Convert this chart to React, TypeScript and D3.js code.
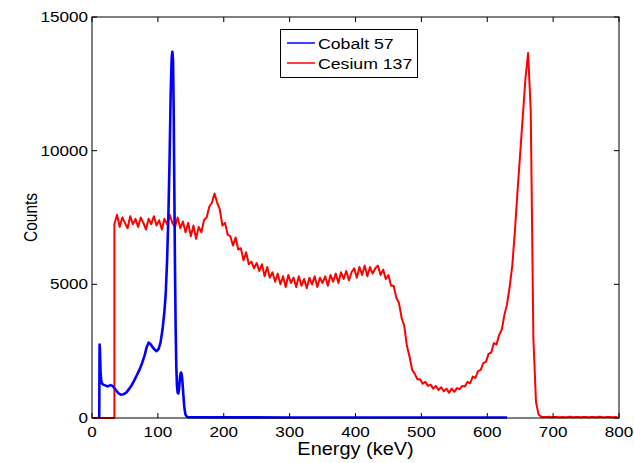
import * as d3 from "d3";

// Cobalt 57 spectrum (energy keV -> counts)
const cobaltEnergy = [
  11, 11.5, 12, 13, 14, 15, 17, 20, 24, 28,
  31, 34, 37, 40, 44, 48, 52, 56, 60, 64,
  68, 72, 76, 80, 83, 86, 89, 92, 95, 98,
  101, 104, 107, 110, 112, 114, 116, 118, 119.5, 121,
  122, 123, 124, 125, 126, 127, 128, 129, 130, 131,
  132, 133, 134, 135, 136, 137, 138, 139, 140, 141,
  142, 144, 146, 200, 300, 400, 500, 630,
];
const cobaltCounts = [
  0, 2750, 2600, 1700, 1400, 1300, 1250, 1220, 1180, 1230,
  1200, 1120, 1020, 930, 870, 890, 950, 1080, 1220, 1400,
  1600, 1800, 2050, 2350, 2650, 2820, 2760, 2650, 2560, 2500,
  2580, 2820, 3300, 4000, 4700, 5900, 7600, 10000, 12200, 13500,
  13700, 13400, 11500, 8500, 5600, 3300, 1900, 1200, 950, 920,
  1050, 1350, 1600, 1700, 1650, 1450, 1100, 750, 450, 250,
  120, 50, 30, 25, 20, 20, 20, 20,
];

// Cesium 137: zero lead-in, then channels every 4 keV from 34 keV
const cesiumLeadEnergy = [0, 34];
const cesiumLeadCounts = [0, 0];
const cesiumStart = 34;
const cesiumStep = 4;
const cesiumCounts = [
  7250, 7600, 7150, 7500, 7300, 7100, 7550, 7250, 7450, 7150,
  7500, 7300, 7050, 7450, 7250, 7550, 7200, 7400, 7050, 7450,
  7250, 7600, 7300, 7150, 7500, 7100, 7350, 6950, 7300, 6800,
  7200, 6700, 7150, 6950, 7400, 7500, 7900, 8050, 8400, 8050,
  7800, 7200, 7300, 6850, 6800, 6450, 6750, 6300, 6350, 5900,
  6200, 5750, 5850, 5600, 5800, 5500, 5750, 5300, 5650, 5250,
  5450, 5100, 5400, 5000, 5300, 4900, 5350, 5050, 5250, 4900,
  5300, 4950, 5200, 4850, 5250, 5000, 5300, 4900, 5250, 5050,
  5300, 4950, 5350, 5100, 5400, 5050, 5450, 5200, 5500, 5150,
  5450, 5600, 5250, 5650, 5350, 5700, 5300, 5650, 5400, 5600,
  5700, 5350, 5550, 5200, 5350, 4950, 4950, 4500, 4300, 3750,
  3450, 2700, 2300, 1800, 1650, 1450, 1450, 1280, 1350, 1200,
  1250, 1100, 1200, 1050, 1150, 1000, 1100, 950, 1100, 980,
  1120, 1080, 1200, 1180, 1350, 1300, 1550, 1500, 1750, 1800,
  2050, 2100, 2400, 2450, 2800, 2750, 3100, 3300, 3850, 4250,
  4900, 5700, 7000, 8500, 9900, 11300, 12700, 13650, 11500, 3000,
  600, 120, 50, 40, 35, 45, 30, 40, 35, 30,
  40, 30, 35, 45, 30, 35, 40, 30, 35, 40,
  30, 35, 40, 30, 45, 35, 30, 40, 35, 30,
  35, 30,
];

const xTicks = [0, 100, 200, 300, 400, 500, 600, 700, 800];
const yTicks = [0, 5000, 10000, 15000];
const seriesNames = ["Cobalt 57", "Cesium 137"];
const seriesColors = ["#0000ff", "#ff0000"];

const W = 634;
const H = 463;
const margin = { left: 92, right: 15, top: 17, bottom: 45 };
const font = "'Liberation Sans', Arial, Helvetica, sans-serif";
// the reference picture is stretched sideways a little
const stretch = 1.14;

export default function App() {
  const x = d3.scaleLinear().domain([0, 800]).range([margin.left, W - margin.right]);
  const y = d3.scaleLinear().domain([0, 15000]).range([H - margin.bottom, margin.top]);
  const [x0, x1] = x.range();
  const [y0, y1] = y.range();

  const cobalt: [number, number][] = cobaltEnergy.map((e, i) => [e, cobaltCounts[i]]);
  const cesium: [number, number][] = [
    ...cesiumLeadEnergy.map((e, i) => [e, cesiumLeadCounts[i]] as [number, number]),
    ...cesiumCounts.map((c, i) => [cesiumStart + i * cesiumStep, c] as [number, number]),
  ];

  const line = d3
    .line<[number, number]>()
    .x((d) => x(d[0]))
    .y((d) => y(d[1]));

  const tick = 5;

  return (
    <svg
      width={W}
      height={H}
      style={{ position: "absolute", left: 0, top: 0, background: "#fff" }}
      fontFamily={font}
    >
      <rect x={0} y={0} width={W} height={H} fill="#fff" />

      <defs>
        <clipPath id="plot">
          <rect x={x0} y={y1 - 2} width={x1 - x0} height={y0 - y1 + 4} />
        </clipPath>
      </defs>
      {/* data */}
      <g clipPath="url(#plot)">
        <path d={line(cesium) || ""} fill="none" stroke={seriesColors[1]} strokeWidth={2} strokeLinejoin="round" />
        <path d={line(cobalt) || ""} fill="none" stroke={seriesColors[0]} strokeWidth={2.6} strokeLinejoin="round" />
      </g>

      {/* box + ticks */}
      <rect x={x0} y={y1} width={x1 - x0} height={y0 - y1} fill="none" stroke="#000" strokeWidth={1} />
      {xTicks.map((t) => (
        <g key={"x" + t}>
          <line x1={x(t)} x2={x(t)} y1={y0} y2={y0 - tick} stroke="#000" />
          <line x1={x(t)} x2={x(t)} y1={y1} y2={y1 + tick} stroke="#000" />
          <text
            transform={`translate(${x(t)}, ${y0 + 19}) scale(${stretch}, 1)`}
            textAnchor="middle"
            fontSize={15}
            fill="#000"
          >
            {t}
          </text>
        </g>
      ))}
      {yTicks.map((t) => (
        <g key={"y" + t}>
          <line x1={x0} x2={x0 + tick} y1={y(t)} y2={y(t)} stroke="#000" />
          <line x1={x1} x2={x1 - tick} y1={y(t)} y2={y(t)} stroke="#000" />
          <text
            transform={`translate(${x0 - 4}, ${y(t) + 5}) scale(${stretch}, 1)`}
            textAnchor="end"
            fontSize={15}
            fill="#000"
          >
            {t}
          </text>
        </g>
      ))}

      {/* axis labels */}
      <text
        transform={`translate(${(x0 + x1) / 2}, 455) scale(${stretch}, 1)`}
        textAnchor="middle"
        fontSize={17.5}
        fill="#000"
      >
        Energy (keV)
      </text>
      <text
        transform={`translate(37, ${(y0 + y1) / 2}) scale(${stretch}, 1) rotate(-90)`}
        textAnchor="middle"
        fontSize={15.5}
        fill="#000"
      >
        Counts
      </text>

      {/* legend */}
      <g>
        <rect x={280.5} y={29.5} width={137} height={48} fill="#fff" stroke="#000" strokeWidth={1} />
        {seriesNames.map((name, i) => (
          <g key={name} transform={`translate(0, ${43 + i * 20})`}>
            <line x1={287} x2={315} y1={0} y2={0} stroke={seriesColors[i]} strokeWidth={1.5} />
            <text transform={`translate(318, 5.5) scale(${stretch}, 1)`} fontSize={15.5} fill="#000">
              {name}
            </text>
          </g>
        ))}
      </g>
    </svg>
  );
}
